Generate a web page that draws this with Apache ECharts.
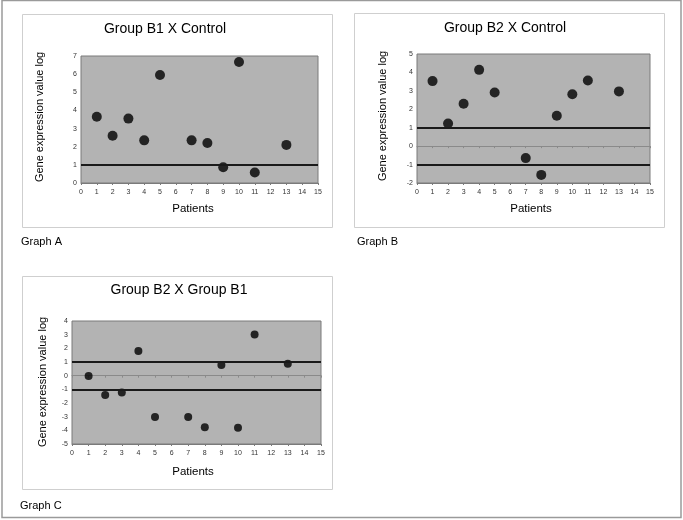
<!DOCTYPE html>
<html>
<head>
<meta charset="utf-8">
<script src="https://cdn.jsdelivr.net/npm/echarts@6/dist/echarts.min.js"></script>
<style>
html,body{margin:0;padding:0;background:#fff;}
#chart{width:683px;height:520px;}
</style>
</head>
<body>
<div id="chart"></div>
<script>
// ---- Data ----
const patients = [1, 2, 3, 4, 5, 7, 8, 9, 10, 11, 13];
const groupB1VsControl = [3.65, 2.6, 3.55, 2.35, 5.95, 2.35, 2.2, 0.87, 6.67, 0.58, 2.1];
const groupB2VsControl = [3.53, 1.23, 2.3, 4.14, 2.91, -0.65, -1.56, 1.65, 2.82, 3.56, 2.97];
const groupB2VsGroupB1 = [-0.02, -1.41, -1.24, 1.8, -3.02, -3.02, -3.77, 0.78, -3.82, 3.02, 0.88];
const titles = ['Group B1 X Control', 'Group B2 X Control', 'Group B2 X Group B1'];
const graphLabels = ['Graph A', 'Graph B', 'Graph C'];
const xTitle = 'Patients';
const yTitle = 'Gene expression value log';
const xRange = [0, 15];
const yRanges = [[0, 7], [-2, 5], [-5, 4]];
const thresholdsA = [1];
const thresholdsB = [1, -1];
const thresholdsC = [1, -1];

const FONT = 'Liberation Sans, Arial, sans-serif';
const chart = echarts.init(document.getElementById('chart'), null, {renderer: 'canvas'});

const grids = [
  {left: 81, top: 56, width: 237, height: 127},
  {left: 417, top: 54, width: 233, height: 129},
  {left: 72, top: 321, width: 249, height: 123}
];
const cards = [
  {x: 22, y: 14, w: 310, h: 213},
  {x: 354, y: 13, w: 310, h: 214},
  {x: 22, y: 276, w: 310, h: 213}
];
const titlePos = [[165, 22], [505, 21], [179, 283]];
const xNamePos = [[193, 209], [531, 209], [193, 472]];
const yNamePos = [[40, 117], [383, 116], [43, 382]];
const graphLabelPos = [[21, 242], [357, 242], [20, 506]];

const seriesData = [groupB1VsControl, groupB2VsControl, groupB2VsGroupB1];
const thresholds = [thresholdsA, thresholdsB, thresholdsC];
const symbolSizes = [10, 10, 8];

const xAxes = [], yAxes = [], series = [];
grids.forEach((g, i) => {
  xAxes.push({
    type: 'value', gridIndex: i, min: xRange[0], max: xRange[1], interval: 1,
    position: 'bottom',
    axisLine: {show: true, onZero: false, lineStyle: {color: '#7a7a7a', width: 1}},
    axisTick: {show: true, length: 2, lineStyle: {color: '#7a7a7a'}},
    splitLine: {show: false},
    axisLabel: {fontSize: 7, color: '#333', margin: 6, fontFamily: FONT}
  });
  yAxes.push({
    type: 'value', gridIndex: i, min: yRanges[i][0], max: yRanges[i][1], interval: 1,
    axisLine: {show: false},
    axisTick: {show: false},
    splitLine: {show: false},
    axisLabel: {fontSize: 7, color: '#333', margin: 4, fontFamily: FONT}
  });
});
// zero lines with tick marks for graphs B and C
[1, 2].forEach(i => {
  xAxes.push({
    type: 'value', gridIndex: i, min: xRange[0], max: xRange[1], interval: 1,
    position: 'bottom',
    axisLine: {show: true, onZero: true, lineStyle: {color: '#8a8a8a', width: 1}},
    axisTick: {show: true, length: 2, lineStyle: {color: '#8a8a8a'}},
    splitLine: {show: false},
    axisLabel: {show: false}
  });
});

seriesData.forEach((vals, i) => {
  series.push({
    type: 'scatter',
    xAxisIndex: i, yAxisIndex: i,
    data: patients.map((p, k) => [p, vals[k]]),
    symbol: 'circle',
    symbolSize: symbolSizes[i],
    itemStyle: {color: '#000'},
    silent: true,
    markLine: {
      silent: true,
      symbol: 'none',
      label: {show: false},
      lineStyle: {color: '#1a1a1a', width: 2, type: 'solid'},
      data: thresholds[i].map(t => ({yAxis: t}))
    }
  });
});

const graphic = [];
// outer frame
graphic.push({type: 'rect', shape: {x: 2, y: 0.5, width: 679, height: 517}, style: {fill: 'none', stroke: '#9a9a9a', lineWidth: 1.5}, z: -10});
cards.forEach(c => {
  graphic.push({type: 'rect', shape: {x: c.x + 0.5, y: c.y + 0.5, width: c.w, height: c.h}, style: {fill: '#fff', stroke: '#cfcfcf', lineWidth: 1}, z: -5});
});
xNamePos.forEach(p => {
  graphic.push({type: 'text', x: p[0], y: p[1], style: {text: xTitle, font: '11.5px ' + FONT, fill: '#000', textAlign: 'center', textVerticalAlign: 'middle', align: 'center', verticalAlign: 'middle'}});
});
yNamePos.forEach(p => {
  graphic.push({type: 'text', x: p[0], y: p[1], rotation: Math.PI / 2, style: {text: yTitle, font: '11px ' + FONT, fill: '#000', textAlign: 'center', textVerticalAlign: 'middle', align: 'center', verticalAlign: 'middle'}});
});
graphLabelPos.forEach((p, i) => {
  graphic.push({type: 'text', x: p[0], y: p[1], style: {text: graphLabels[i], font: '11px ' + FONT, fill: '#000', textAlign: 'left', textVerticalAlign: 'middle', align: 'left', verticalAlign: 'middle'}});
});

chart.setOption({
  backgroundColor: '#fff',
  animation: false,
  title: titles.map((t, i) => ({
    text: t, left: titlePos[i][0], top: titlePos[i][1], textAlign: 'center', padding: 0,
    textStyle: {fontSize: 14, fontWeight: 'normal', color: '#000', fontFamily: FONT}
  })),
  grid: grids.map(g => Object.assign({show: true, backgroundColor: '#b3b3b3', borderColor: '#7a7a7a', borderWidth: 1, containLabel: false}, g)),
  xAxis: xAxes,
  yAxis: yAxes,
  series: series,
  graphic: graphic
});
</script>
</body>
</html>
